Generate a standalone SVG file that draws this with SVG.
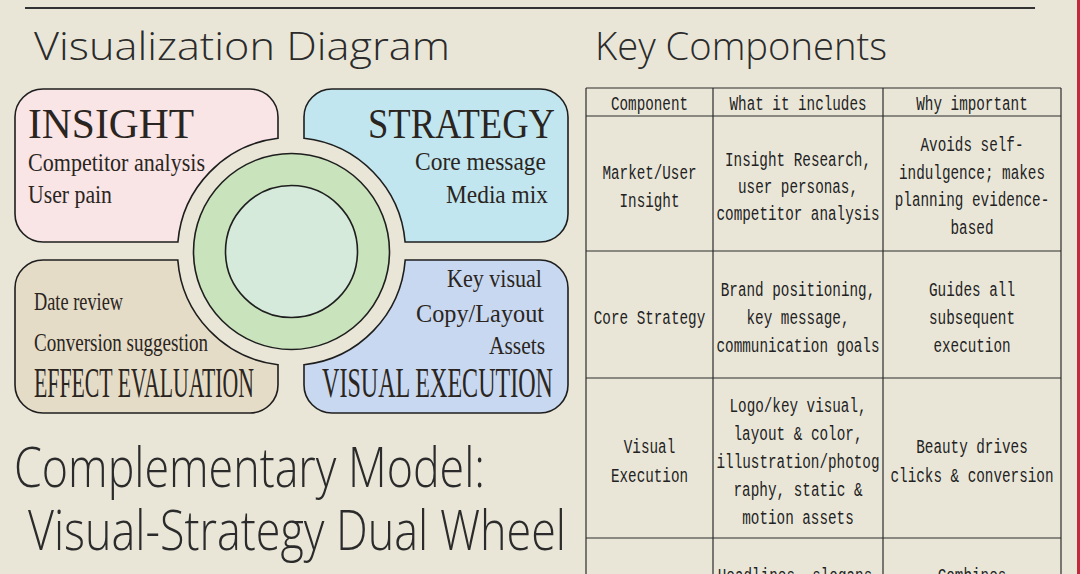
<svg xmlns="http://www.w3.org/2000/svg" width="1080" height="574" viewBox="0 0 1080 574">
<style>
.bg{fill:#E9E6D8}
.box{stroke:#1e1e1e;stroke-width:1.6}
.serif{font-family:"Liberation Serif","Times New Roman",serif;fill:#2a2520}
.head{font-size:42px}
.sub{font-size:25px}
.title{font-family:"Open Sans","Liberation Sans",sans-serif;font-weight:300;fill:#2b2b2b}
.cell{font-family:"Liberation Mono","DejaVu Sans Mono",monospace;font-size:20px;fill:#222;text-anchor:middle}
.grid{stroke:#2a2a2a;stroke-width:1.2;fill:none}
</style>
<rect class="bg" x="0" y="0" width="1080" height="574"/>
<line x1="25" y1="8" x2="1035" y2="8" stroke="#333" stroke-width="2"/>
<rect x="1077" y="0" width="3" height="574" fill="#C4283C"/>

<g id="left-title">
<text class="title" x="34" y="60" font-size="39" textLength="416" lengthAdjust="spacingAndGlyphs">Visualization Diagram</text>
</g>

<g id="insight">
<path class="box" fill="#F9E4E6" d="M43,89 H250 A28,28 0 0 1 278,117 V138.3 A114,114 0 0 0 177.9,242 H43 A28,28 0 0 1 15,214 V117 A28,28 0 0 1 43,89 Z"/>
<text class="serif head" x="28" y="138" textLength="166" lengthAdjust="spacingAndGlyphs">INSIGHT</text>
<text class="serif sub" x="28" y="171" textLength="177" lengthAdjust="spacingAndGlyphs">Competitor analysis</text>
<text class="serif sub" x="28" y="203" textLength="84" lengthAdjust="spacingAndGlyphs">User pain</text>
</g>

<g id="strategy">
<path class="box" fill="#C2E6F0" d="M332,89 H540 A28,28 0 0 1 568,117 V214 A28,28 0 0 1 540,242 H405.1 A114,114 0 0 0 304,138.2 V117 A28,28 0 0 1 332,89 Z"/>
<text class="serif head" x="368" y="138" textLength="187" lengthAdjust="spacingAndGlyphs">STRATEGY</text>
<text class="serif sub" x="415" y="170" textLength="131" lengthAdjust="spacingAndGlyphs">Core message</text>
<text class="serif sub" x="446" y="203" textLength="102" lengthAdjust="spacingAndGlyphs">Media mix</text>
</g>

<g id="effect-evaluation">
<path class="box" fill="#E5DCC8" d="M43,260 H177.8 A114,114 0 0 0 278,364.7 V385 A28,28 0 0 1 250,413 H43 A28,28 0 0 1 15,385 V288 A28,28 0 0 1 43,260 Z"/>
<text class="serif sub" x="34" y="310" font-size="28" textLength="89" lengthAdjust="spacingAndGlyphs">Date review</text>
<text class="serif sub" x="34" y="351" font-size="28" textLength="174" lengthAdjust="spacingAndGlyphs">Conversion suggestion</text>
<text class="serif head" x="34" y="397" textLength="220" lengthAdjust="spacingAndGlyphs">EFFECT EVALUATION</text>
</g>

<g id="visual-execution">
<path class="box" fill="#C8D8F0" d="M405.2,260 H540 A28,28 0 0 1 568,288 V385 A28,28 0 0 1 540,413 H332 A28,28 0 0 1 304,385 V364.7 A114,114 0 0 0 405.2,260 Z"/>
<text class="serif sub" x="447" y="287" textLength="95" lengthAdjust="spacingAndGlyphs">Key visual</text>
<text class="serif sub" x="416" y="322" textLength="128" lengthAdjust="spacingAndGlyphs">Copy/Layout</text>
<text class="serif sub" x="489" y="354" textLength="56" lengthAdjust="spacingAndGlyphs">Assets</text>
<text class="serif head" x="322" y="397" textLength="231" lengthAdjust="spacingAndGlyphs">VISUAL EXECUTION</text>
</g>

<g id="core-wheel">
<circle class="box" cx="291.5" cy="251.5" r="98" fill="#C9E3BD"/>
<circle class="box" cx="291.5" cy="251.5" r="66" fill="#D5EADB"/>
</g>

<g id="connectors"/>

<g id="bottom-title">
<text class="title" x="14" y="487" font-size="56" textLength="471" lengthAdjust="spacingAndGlyphs">Complementary Model:</text>
<text class="title" x="28" y="550" font-size="56" textLength="538" lengthAdjust="spacingAndGlyphs">Visual-Strategy Dual Wheel</text>
</g>

<g id="right-title">
<text class="title" x="595" y="60" font-size="39" textLength="292" lengthAdjust="spacingAndGlyphs">Key Components</text>
</g>

<g id="table">
<g class="grid">
<line x1="586" y1="88" x2="1061" y2="88"/>
<line x1="586" y1="116" x2="1061" y2="116"/>
<line x1="586" y1="251" x2="1061" y2="251"/>
<line x1="586" y1="378" x2="1061" y2="378"/>
<line x1="586" y1="538" x2="1061" y2="538"/>
<line x1="586" y1="88" x2="586" y2="574"/>
<line x1="713" y1="88" x2="713" y2="574"/>
<line x1="883" y1="88" x2="883" y2="574"/>
<line x1="1061" y1="88" x2="1061" y2="574"/>
</g>
<g id="row-header">
<text class="cell" x="649.5" y="110" textLength="77" lengthAdjust="spacingAndGlyphs">Component</text>
<text class="cell" x="798" y="110" textLength="137" lengthAdjust="spacingAndGlyphs">What it includes</text>
<text class="cell" x="972" y="110" textLength="111.5" lengthAdjust="spacingAndGlyphs">Why important</text>
</g>
<g id="row-insight">
<text class="cell" x="649.5" y="179" textLength="94" lengthAdjust="spacingAndGlyphs">Market/User</text>
<text class="cell" x="649.5" y="207" textLength="60" lengthAdjust="spacingAndGlyphs">Insight</text>
<text class="cell" x="798" y="166" textLength="146" lengthAdjust="spacingAndGlyphs">Insight Research,</text>
<text class="cell" x="798" y="193" textLength="120" lengthAdjust="spacingAndGlyphs">user personas,</text>
<text class="cell" x="798" y="220" textLength="163" lengthAdjust="spacingAndGlyphs">competitor analysis</text>
<text class="cell" x="972" y="151" textLength="103" lengthAdjust="spacingAndGlyphs">Avoids self-</text>
<text class="cell" x="972" y="178.5" textLength="146" lengthAdjust="spacingAndGlyphs">indulgence; makes</text>
<text class="cell" x="972" y="206" textLength="154.5" lengthAdjust="spacingAndGlyphs">planning evidence-</text>
<text class="cell" x="972" y="233.5" textLength="43" lengthAdjust="spacingAndGlyphs">based</text>
</g>
<g id="row-strategy">
<text class="cell" x="649.5" y="324" textLength="111.5" lengthAdjust="spacingAndGlyphs">Core Strategy</text>
<text class="cell" x="798" y="296" textLength="154.5" lengthAdjust="spacingAndGlyphs">Brand positioning,</text>
<text class="cell" x="798" y="324" textLength="103" lengthAdjust="spacingAndGlyphs">key message,</text>
<text class="cell" x="798" y="352" textLength="163" lengthAdjust="spacingAndGlyphs">communication goals</text>
<text class="cell" x="972" y="296" textLength="86" lengthAdjust="spacingAndGlyphs">Guides all</text>
<text class="cell" x="972" y="324" textLength="86" lengthAdjust="spacingAndGlyphs">subsequent</text>
<text class="cell" x="972" y="352" textLength="77" lengthAdjust="spacingAndGlyphs">execution</text>
</g>
<g id="row-visual">
<text class="cell" x="649.5" y="453" textLength="51.5" lengthAdjust="spacingAndGlyphs">Visual</text>
<text class="cell" x="649.5" y="482" textLength="77" lengthAdjust="spacingAndGlyphs">Execution</text>
<text class="cell" x="798" y="412" textLength="137" lengthAdjust="spacingAndGlyphs">Logo/key visual,</text>
<text class="cell" x="798" y="440" textLength="129" lengthAdjust="spacingAndGlyphs">layout &amp; color,</text>
<text class="cell" x="798" y="468" textLength="163" lengthAdjust="spacingAndGlyphs">illustration/photog</text>
<text class="cell" x="798" y="496" textLength="129" lengthAdjust="spacingAndGlyphs">raphy, static &amp;</text>
<text class="cell" x="798" y="524" textLength="111.5" lengthAdjust="spacingAndGlyphs">motion assets</text>
<text class="cell" x="972" y="453" textLength="111.5" lengthAdjust="spacingAndGlyphs">Beauty drives</text>
<text class="cell" x="972" y="482" textLength="163" lengthAdjust="spacingAndGlyphs">clicks &amp; conversion</text>
</g>
<g id="row-copy">
<text class="cell" x="795" y="582" textLength="154.5" lengthAdjust="spacingAndGlyphs">Headlines, slogans</text>
<text class="cell" x="972" y="582" textLength="68.6" lengthAdjust="spacingAndGlyphs">Combines</text>
</g>
</g>
</svg>
